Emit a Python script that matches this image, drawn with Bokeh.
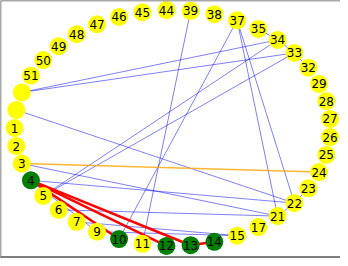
import math
from bokeh.plotting import figure
from bokeh.models import ColumnDataSource, Span, Range1d
from bokeh.embed import file_html
from bokeh.resources import INLINE
from bokeh.core.properties import value

# Node order around the circle (counter-clockwise, starting just above the right side)
nodes = ["27", "28", "29", "32", "33", "34", "35", "37", "38", "39",
         "44", "45", "46", "47", "48", "49", "50", "51", "u1", "u2",
         "1", "2", "3", "4", "5", "6", "7", "9", "10", "11", "12", "13",
         "14", "15", "17", "21", "22", "23", "24", "25", "26"]
unlabeled = ["u1", "u2"]
highlight_nodes = ["4", "10", "12", "13", "14"]

blue_edges = [("u1", "34"), ("u1", "33"), ("u2", "22"), ("3", "21"), ("4", "22"),
              ("5", "34"), ("5", "33"), ("6", "21"), ("7", "15"), ("9", "15"),
              ("4", "9"), ("37", "10"), ("37", "21"), ("37", "22"), ("39", "11"),
              ("35", "34"), ("34", "33"), ("33", "32"), ("23", "22"), ("22", "21")]
red_edges = [("4", "10"), ("4", "12"), ("4", "13"), ("13", "14")]
orange_edges = [("3", "24")]

# circular layout
n = len(nodes)
pos = {}
for i, nd in enumerate(nodes):
    a = 2 * math.pi * (i + 0.5) / n
    pos[nd] = (math.cos(a), math.sin(a))

X0, X1 = -1.0886, 1.0633
Y0, Y1 = -1.1059, 1.0805
p = figure(width=340, height=258, output_backend="svg", toolbar_location=None,
           x_range=Range1d(X0, X1), y_range=Range1d(Y0, Y1), min_border=0)
p.xaxis.visible = False
p.yaxis.visible = False
p.xgrid.visible = False
p.ygrid.visible = False
p.outline_line_color = None
p.background_fill_color = "white"
p.border_fill_color = "white"

def edge_src(edges):
    return ColumnDataSource(dict(
        x0=[pos[a][0] for a, b in edges], y0=[pos[a][1] for a, b in edges],
        x1=[pos[b][0] for a, b in edges], y1=[pos[b][1] for a, b in edges]))

p.segment("x0", "y0", "x1", "y1", source=edge_src(blue_edges),
          line_color="blue", line_alpha=0.5, line_width=1)
p.segment("x0", "y0", "x1", "y1", source=edge_src(orange_edges),
          line_color="#FFA500", line_alpha=0.8, line_width=1.5)
p.segment("x0", "y0", "x1", "y1", source=edge_src(red_edges),
          line_color="red", line_alpha=1.0, line_width=2.5)

ns = ColumnDataSource(dict(
    x=[pos[k][0] for k in nodes], y=[pos[k][1] for k in nodes],
    color=["green" if k in highlight_nodes else "yellow" for k in nodes],
    label=["" if k in unlabeled else k for k in nodes]))
p.scatter("x", "y", source=ns, size=18, fill_color="color", line_color=None)
p.text("x", "y", text="label", source=ns, text_font=value("DejaVu Sans"),
       text_font_size="12px", text_align="center", text_baseline="middle",
       text_color="black")

H = Y1 - Y0
for loc, dim in [(X0, "height"), (Y1, "width"), (Y1 - H * 256.5 / 258, "width")]:
    p.add_layout(Span(location=loc, dimension=dim, line_color="#555555", line_width=1.5))

open("out.html", "w").write(file_html(p, INLINE))
